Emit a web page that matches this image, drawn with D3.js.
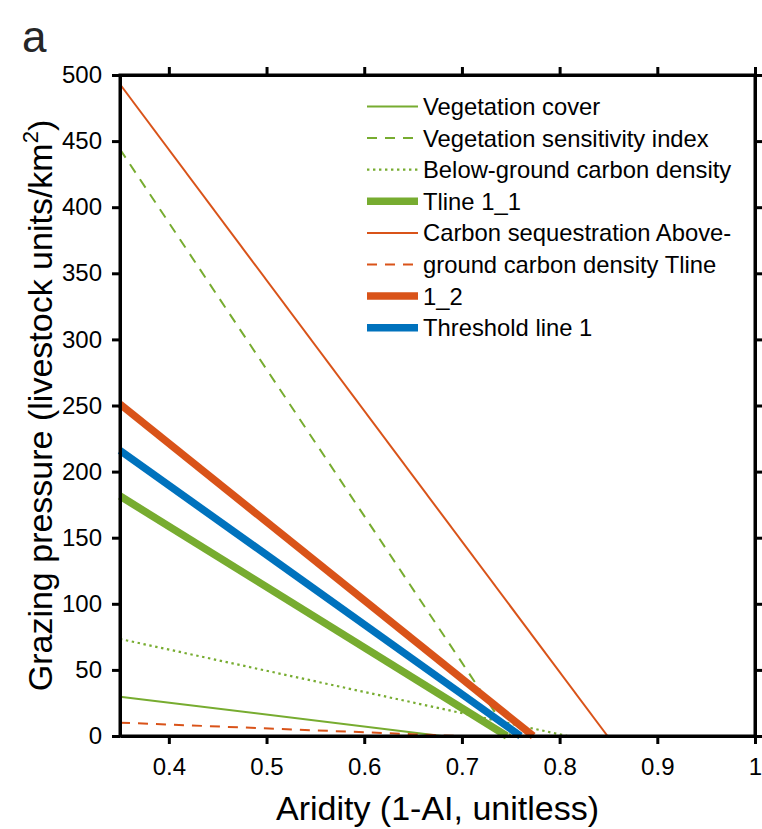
<!DOCTYPE html>
<html>
<head>
<meta charset="utf-8">
<script src="https://cdn.jsdelivr.net/npm/d3@7"></script>
<style>
  html, body { margin: 0; padding: 0; background: #ffffff; }
  svg { display: block; font-family: "Liberation Sans", Arial, sans-serif; }
</style>
</head>
<body>
<svg id="chart" width="762" height="829"></svg>
<script>
// ---- data ----
const seriesNames = ["Vegetation cover", "Vegetation sensitivity index", "Below-ground carbon density", "Tline 1_1",
                     "Carbon sequestration", "Above-ground carbon density", "Tline 1_2", "Threshold line 1"];
const startAridity = [0.35, 0.35, 0.35, 0.35, 0.35, 0.35, 0.35, 0.35];
const startPressure = [29.7, 443.8, 73.4, 181.5, 493, 10.1, 251, 216];
const endAridity = [0.679, 0.75, 0.808, 0.746, 0.849, 0.697, 0.773, 0.76];
const endPressure = [0, 0, 0, 0, 0, 0, 0, 0];
const seriesColors = ["#77AC30", "#77AC30", "#77AC30", "#77AC30", "#D95319", "#D95319", "#D95319", "#0072BD"];
const seriesWidths = [2, 2, 2.2, 7.5, 2, 2, 7.5, 7.5];
const seriesDash = [null, "10,8", "2.4,3.6", null, null, "10,8", null, null];
// legend text as wrapped in the reference
const legendLabels = ["Vegetation cover", "Vegetation sensitivity index", "Below-ground carbon density", "Tline 1_1",
                      "Carbon sequestration Above-", "ground carbon density Tline", "1_2", "Threshold line 1"];
const xTicks = [0.4, 0.5, 0.6, 0.7, 0.8, 0.9, 1.0];
const xTickLabels = ["0.4", "0.5", "0.6", "0.7", "0.8", "0.9", "1"];
const yTicks = [0, 50, 100, 150, 200, 250, 300, 350, 400, 450, 500];
const xDomain = [0.35, 1.0];
const yDomain = [0, 500];

(function () {
  // ---- layout ----
  const svg = d3.select("#chart");
  const L = 120, R = 755, T = 75, B = 736;
  const x = d3.scaleLinear().domain(xDomain).range([L, R]);
  const y = d3.scaleLinear().domain(yDomain).range([B, T]);

  // ---- series ----
  const line = d3.line().x(d => x(d[0])).y(d => y(d[1]));
  const plotG = svg.append("g");
  seriesNames.forEach((name, i) => {
    const pts = [[startAridity[i], startPressure[i]], [endAridity[i], endPressure[i]]];
    plotG.append("path")
      .attr("d", line(pts))
      .attr("fill", "none")
      .attr("stroke", seriesColors[i])
      .attr("stroke-width", seriesWidths[i])
      .attr("stroke-dasharray", seriesDash[i])
      .attr("stroke-linecap", "butt");
  });

  // ---- axes ----
  const tickLen = 8;
  const fontTick = 24;
  const axB = d3.axisBottom(x).tickValues(xTicks).tickFormat((d, i) => xTickLabels[i]).tickSizeInner(tickLen).tickSizeOuter(0).tickPadding(14);
  const axT = d3.axisTop(x).tickValues(xTicks).tickFormat("").tickSizeInner(tickLen).tickSizeOuter(0);
  const axL = d3.axisLeft(y).tickValues(yTicks).tickFormat(d3.format("d")).tickSizeInner(tickLen).tickSizeOuter(0).tickPadding(10);
  const axR = d3.axisRight(y).tickValues(yTicks).tickFormat("").tickSizeInner(tickLen).tickSizeOuter(0);

  function styleAxis(g) {
    g.select(".domain").attr("stroke", "#000").attr("stroke-width", 3);
    g.selectAll(".tick line").attr("stroke", "#000").attr("stroke-width", 3);
    g.selectAll(".tick text").attr("fill", "#000").attr("font-size", fontTick)
      .attr("font-family", "'Liberation Sans', Arial, sans-serif");
  }
  svg.append("g").attr("transform", `translate(0,${B})`).call(axB).call(styleAxis);
  svg.append("g").attr("transform", `translate(0,${T})`).call(axT).call(styleAxis);
  svg.append("g").attr("transform", `translate(${L},0)`).call(axL).call(styleAxis);
  svg.append("g").attr("transform", `translate(${R},0)`).call(axR).call(styleAxis);
  svg.append("rect").attr("x", L).attr("y", T).attr("width", R - L).attr("height", B - T)
    .attr("fill", "none").attr("stroke", "#000").attr("stroke-width", 3);

  // ---- axis titles ----
  svg.append("text").attr("x", (L + R) / 2).attr("y", 820).attr("text-anchor", "middle")
    .attr("font-size", 34).attr("fill", "#000").text("Aridity (1-AI, unitless)");
  const yt = svg.append("text").attr("transform", `translate(52,${(T + B) / 2}) rotate(-90)`)
    .attr("text-anchor", "middle").attr("font-size", 34).attr("fill", "#000");
  yt.append("tspan").text("Grazing pressure (livestock units/km");
  yt.append("tspan").attr("font-size", 22).attr("dy", -14).text("2");
  yt.append("tspan").attr("dy", 14).text(")");

  // ---- panel label ----
  svg.append("text").attr("x", 22).attr("y", 52).attr("font-size", 44).attr("fill", "#262626").text("a");

  // ---- legend ----
  const legX0 = 367, legX1 = 418, legTextX = 423, legY0 = 106.5, legDy = 31.6;
  const legG = svg.append("g");
  legendLabels.forEach((lab, i) => {
    const yy = legY0 + i * legDy;
    legG.append("line").attr("x1", legX0).attr("x2", legX1).attr("y1", yy).attr("y2", yy)
      .attr("stroke", seriesColors[i]).attr("stroke-width", seriesWidths[i])
      .attr("stroke-dasharray", seriesDash[i]);
    legG.append("text").attr("x", legTextX).attr("y", yy + 8.5).attr("font-size", 23.8)
      .attr("fill", "#000").text(lab);
  });
})();
</script>
</body>
</html>
